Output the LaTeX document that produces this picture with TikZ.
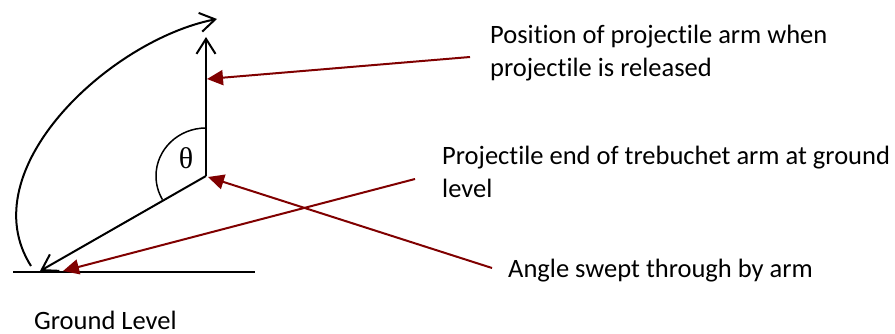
\documentclass[tikz,border=0pt]{standalone}
\usepackage{fontspec}
\setmainfont[Ligatures=NoCommon]{Carlito}
\newfontfamily\thetafont{Liberation Serif}
\usetikzlibrary{arrows.meta}
\definecolor{darkred}{RGB}{128,0,0}
\begin{document}
\begin{tikzpicture}[x=1pt,y=-1pt,
  blackarrow/.style={line width=2pt,-{Straight Barb[length=15pt,width=19pt,line width=2pt]}},
  redarrow/.style={draw=darkred,line width=2pt,-{Triangle[length=16pt,width=15pt]},fill=darkred},
  label/.style={font=\fontsize{26.5}{33}\selectfont,inner sep=0pt,anchor=base west,align=left}]
\useasboundingbox (0,0) rectangle (895,334);
% key points
\coordinate (pivot) at (206,176);
\coordinate (armtop) at (206,37);
\coordinate (armlow) at (40,271);
\coordinate (gl) at (13,272);
\coordinate (gr) at (255,272);
\coordinate (arcstart) at (31,266);
\coordinate (arcend) at (217,19);
% ground line
\draw[line width=1.5pt] (gl) -- (gr);
% arms
\draw[blackarrow] (pivot) -- (armtop);
\draw[blackarrow] (pivot) -- (armlow);
% swept arc
\draw[blackarrow] (arcstart) .. controls (-30,170) and (110,40) .. (arcend);
% angle arc
\draw[line width=1.5pt] (206,128) arc[start angle=270,end angle=150.5,x radius=50,y radius=48];
\node[inner sep=0pt,font=\thetafont\fontsize{30}{30}\selectfont] (theta) at (186,158) {θ};
% labels (base anchor = baseline of last line)
\node[label] (lpos) at (490,77) {Position of projectile arm when\\projectile is released};
\node[label] (lend) at (442,197) {Projectile end of trebuchet arm at ground\\level};
\node[label] (lang) at (508,277) {Angle swept through by arm};
\node[label] (lgnd) at (34,329) {Ground Level};
% red pointers
\coordinate (p1s) at (470,57);
\coordinate (p1e) at (207,79);
\coordinate (p2s) at (415,179);
\coordinate (p2e) at (63,271);
\coordinate (p3s) at (492,268);
\coordinate (p3e) at (208,177);
\draw[redarrow] (p1s) -- (p1e);
\draw[redarrow] (p2s) -- (p2e);
\draw[redarrow] (p3s) -- (p3e);
\end{tikzpicture}
\end{document}
